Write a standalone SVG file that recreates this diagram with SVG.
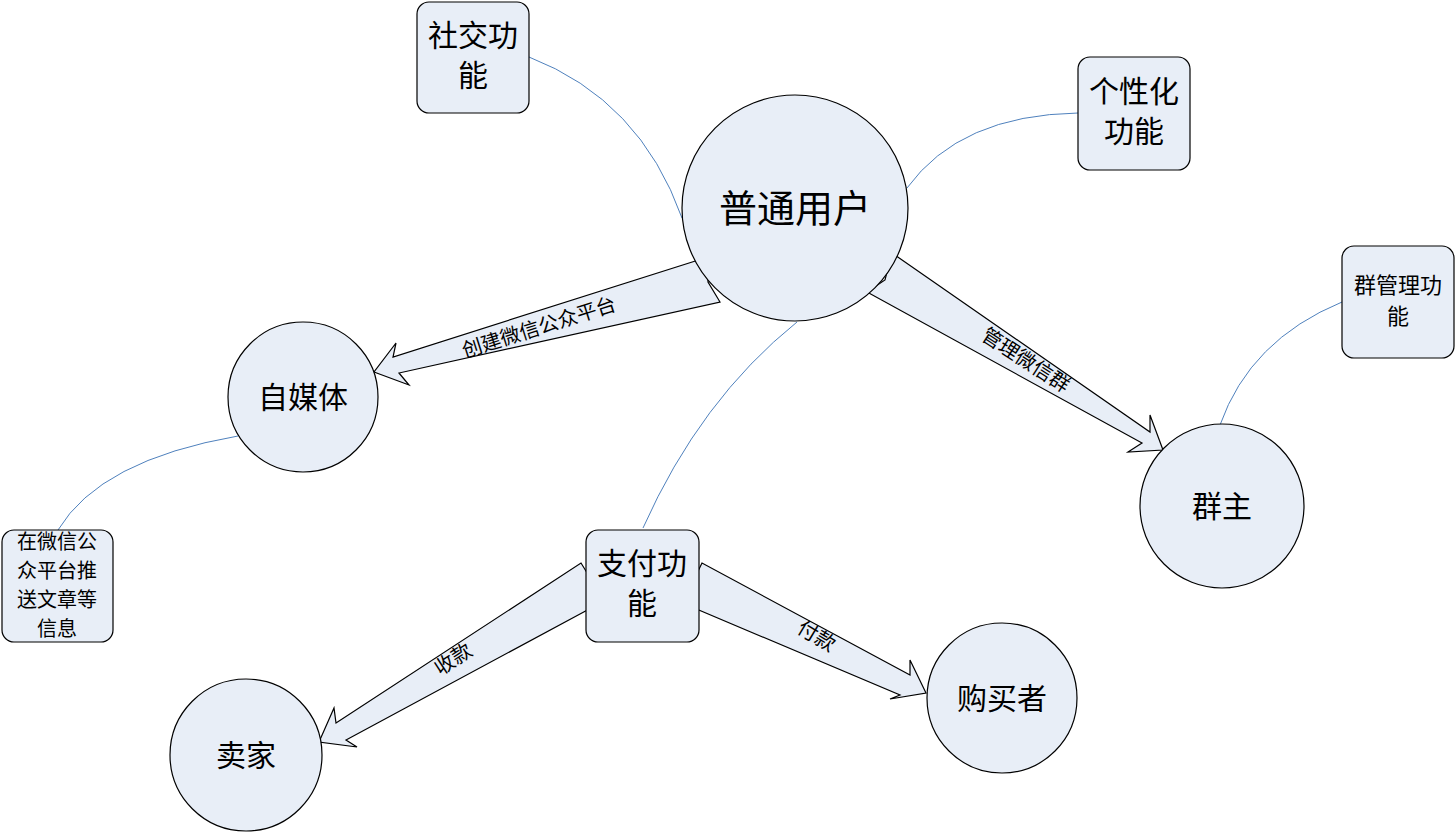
<svg xmlns="http://www.w3.org/2000/svg" width="1456" height="832" viewBox="0 0 1456 832">
<style>
.n{fill:#e8eef7;stroke:#000;stroke-width:1.2}
.a{fill:#e8eef7;stroke:#000;stroke-width:1.2;stroke-linejoin:miter}
.c{fill:none;stroke:#4f81bd;stroke-width:1}
text{font-family:"Noto Sans CJK SC",sans-serif;fill:#000;text-anchor:middle}
</style>
<rect width="1456" height="832" fill="#fff"/>
<g id="connectors">
<path class="c" d="M529,57 Q640,100 682,218"/>
<path class="c" d="M1078,113 Q960,115 907,188"/>
<path class="c" d="M1342,302 Q1250,340 1220,425"/>
<path class="c" d="M238,436 Q100,460 58,530"/>
<path class="c" d="M643,528 Q700,400 797,322"/>
<polygon class="a" points="708,257 708,282 720,302 399,373 409,385 374,372 396,343 393,357"/>
<polygon class="a" points="892,253 885,280 867,292 1142,443 1128,452 1163,450 1150,415 1150,432"/>
<polygon class="a" points="581,563 605,602 593,607 346,740 357,747 319,742 334,708 336,723"/>
<polygon class="a" points="702,563 683,602 687,605 900,695 890,699 926,693 910,660 910,675"/>
<text font-size="20" transform="translate(541,334) rotate(-17.5)">创建微信公众平台</text>
<text font-size="20" transform="translate(1022,366) rotate(33)">管理微信群</text>
<text font-size="20" transform="translate(457,665) rotate(-33)">收款</text>
<text font-size="20" transform="translate(813,642) rotate(31)">付款</text>
</g>
<g id="n1"><circle class="n" cx="795" cy="208" r="113"/><text x="795" y="222" font-size="38">普通用户</text></g>
<g id="n2"><circle class="n" cx="303" cy="397" r="75"/><text x="303" y="408" font-size="30">自媒体</text></g>
<g id="n3"><circle class="n" cx="1222" cy="506" r="82"/><text x="1222" y="517" font-size="30">群主</text></g>
<g id="n4"><circle class="n" cx="1002" cy="698" r="75"/><text x="1002" y="709" font-size="30">购买者</text></g>
<g id="n5"><circle class="n" cx="246" cy="755" r="76"/><text x="246" y="766" font-size="30">卖家</text></g>
<g id="b1"><rect class="n" x="417" y="2" width="112" height="111" rx="12"/><text x="473" y="46" font-size="30">社交功</text><text x="473" y="86" font-size="30">能</text></g>
<g id="b2"><rect class="n" x="1078" y="57" width="112" height="113" rx="12"/><text x="1134" y="102" font-size="30">个性化</text><text x="1134" y="142" font-size="30">功能</text></g>
<g id="b3"><rect class="n" x="1342" y="246" width="112" height="112" rx="12"/><text x="1398" y="293" font-size="22">群管理功</text><text x="1398" y="324" font-size="22">能</text></g>
<g id="b4"><rect class="n" x="2" y="530" width="111" height="112" rx="12"/><text x="57" y="549" font-size="20">在微信公</text><text x="57" y="578" font-size="20">众平台推</text><text x="57" y="607" font-size="20">送文章等</text><text x="57" y="636" font-size="20">信息</text></g>
<g id="b5"><rect class="n" x="586" y="530" width="113" height="112" rx="12"/><text x="642" y="574" font-size="30">支付功</text><text x="642" y="614" font-size="30">能</text></g>
</svg>
